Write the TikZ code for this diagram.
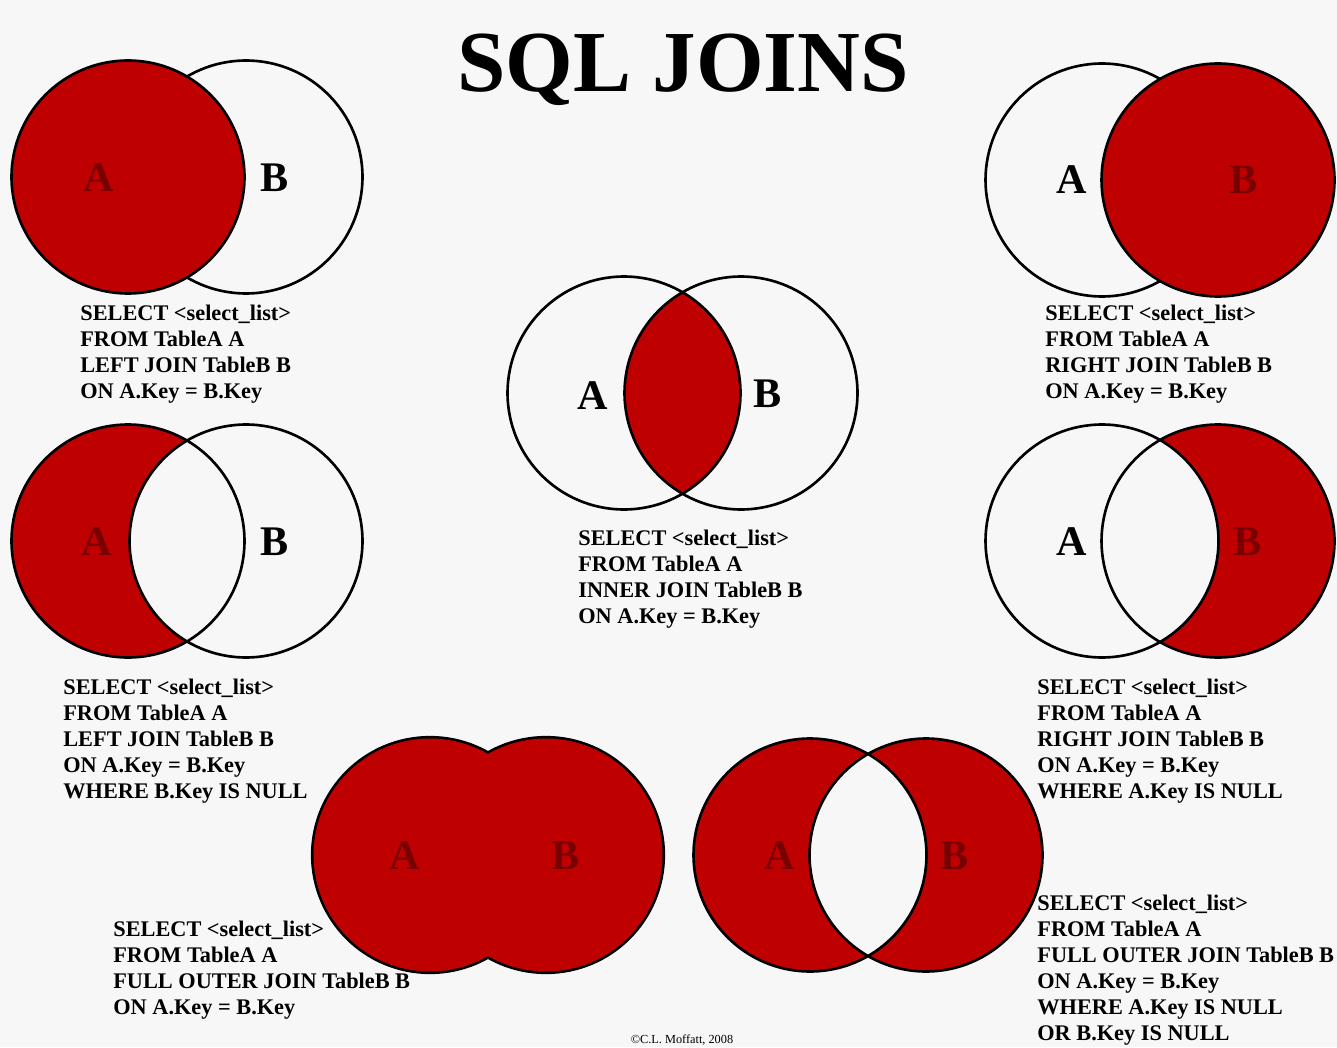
\documentclass[tikz,border=0pt]{standalone}
\usepackage{fontspec}
\setmainfont{Liberation Serif}
\usepackage{tikz}
\usetikzlibrary{positioning}
\definecolor{joinred}{RGB}{190,0,0}
\definecolor{darkjoin}{RGB}{120,0,0}
\definecolor{paper}{RGB}{247,247,247}
\tikzset{>=latex}
\tikzset{
  ring/.style={draw=black, line width=1.5pt},
  setlabel/.style={font=\fontsize{24}{24}\selectfont\bfseries},
  hidlabel/.style={setlabel, text=darkjoin},
  query/.style={anchor=north west, align=left, inner sep=0pt,
    font=\fontsize{12.7}{14.8}\selectfont\bfseries},
}
\newcommand{\ringr}{2.33cm}

\begin{document}
\begin{tikzpicture}[x=0.02cm, y=-0.02cm]
  \fill[paper] (0,0) rectangle (1337,1047);
  \useasboundingbox (0,0) rectangle (1337,1047);

  \node[font=\fontsize{49.5}{50}\selectfont\bfseries] (title) at (683,70) {SQL JOINS};

  % circle centres
  \coordinate (la) at (128,177);  \coordinate (lb) at (246,177);
  \coordinate (ra) at (1102,180); \coordinate (rb) at (1218,180);
  \coordinate (ia) at (624,393);  \coordinate (ib) at (741,393);
  \coordinate (xa) at (128,541);  \coordinate (xb) at (246,541);
  \coordinate (ya) at (1102,541); \coordinate (yb) at (1218,541);
  \coordinate (fa) at (430,855);  \coordinate (fb) at (546,855);
  \coordinate (ea) at (810,855);  \coordinate (eb) at (926,855);

  % left join
  \draw[ring] (lb) circle[radius=\ringr];
  \filldraw[ring, fill=joinred] (la) circle[radius=\ringr];
  \node[hidlabel] (laL) at (99,178) {A};
  \node[setlabel] (lbL) at (275,178) {B};
  \node[query] (lq) at (80,305) {SELECT <select\_list>\\FROM TableA A\\LEFT JOIN TableB B\\ON A.Key = B.Key};

  % right join
  \draw[ring] (ra) circle[radius=\ringr];
  \filldraw[ring, fill=joinred] (rb) circle[radius=\ringr];
  \node[setlabel] (raL) at (1072,180) {A};
  \node[hidlabel] (rbL) at (1244,180) {B};
  \node[query] (rq) at (1045,305) {SELECT <select\_list>\\FROM TableA A\\RIGHT JOIN TableB B\\ON A.Key = B.Key};

  % inner join
  \begin{scope}
    \clip (ia) circle[radius=\ringr];
    \fill[joinred] (ib) circle[radius=\ringr];
  \end{scope}
  \draw[ring] (ia) circle[radius=\ringr] (ib) circle[radius=\ringr];
  \node[setlabel] (iaL) at (593,396) {A};
  \node[setlabel] (ibL) at (768,394) {B};
  \node[query] (iq) at (578,530) {SELECT <select\_list>\\FROM TableA A\\INNER JOIN TableB B\\ON A.Key = B.Key};

  % left join, B key null
  \fill[joinred] (xa) circle[radius=\ringr];
  \begin{scope}
    \clip (xa) circle[radius=\ringr];
    \fill[paper] (xb) circle[radius=\ringr];
  \end{scope}
  \draw[ring] (xa) circle[radius=\ringr] (xb) circle[radius=\ringr];
  \node[hidlabel] (xaL) at (97,542) {A};
  \node[setlabel] (xbL) at (275,542) {B};
  \node[query] (xq) at (63,679) {SELECT <select\_list>\\FROM TableA A\\LEFT JOIN TableB B\\ON A.Key = B.Key\\WHERE B.Key IS NULL};

  % right join, A key null
  \fill[joinred] (yb) circle[radius=\ringr];
  \begin{scope}
    \clip (yb) circle[radius=\ringr];
    \fill[paper] (ya) circle[radius=\ringr];
  \end{scope}
  \draw[ring] (ya) circle[radius=\ringr] (yb) circle[radius=\ringr];
  \node[setlabel] (yaL) at (1072,542) {A};
  \node[hidlabel] (ybL) at (1248,542) {B};
  \node[query] (yq) at (1037,679) {SELECT <select\_list>\\FROM TableA A\\RIGHT JOIN TableB B\\ON A.Key = B.Key\\WHERE A.Key IS NULL};

  % full outer join
  \draw[ring, line width=3pt] (fa) circle[radius=\ringr] (fb) circle[radius=\ringr];
  \fill[joinred] (fa) circle[radius=\ringr] (fb) circle[radius=\ringr];
  \node[hidlabel] (faL) at (405,856) {A};
  \node[hidlabel] (fbL) at (566,856) {B};
  \node[query] (fq) at (113,921) {SELECT <select\_list>\\FROM TableA A\\FULL OUTER JOIN TableB B\\ON A.Key = B.Key};

  % full outer join, keys null
  \fill[joinred] (ea) circle[radius=\ringr] (eb) circle[radius=\ringr];
  \begin{scope}
    \clip (ea) circle[radius=\ringr];
    \fill[paper] (eb) circle[radius=\ringr];
  \end{scope}
  \draw[ring] (ea) circle[radius=\ringr] (eb) circle[radius=\ringr];
  \node[hidlabel] (eaL) at (780,856) {A};
  \node[hidlabel] (ebL) at (955,856) {B};
  \node[query] (eq) at (1037,895) {SELECT <select\_list>\\FROM TableA A\\FULL OUTER JOIN TableB B\\ON A.Key = B.Key\\WHERE A.Key IS NULL\\OR B.Key IS NULL};

  \node[font=\fontsize{7}{7}\selectfont] (credit) at (682,1040) {©C.L. Moffatt, 2008};
\end{tikzpicture}
\end{document}
